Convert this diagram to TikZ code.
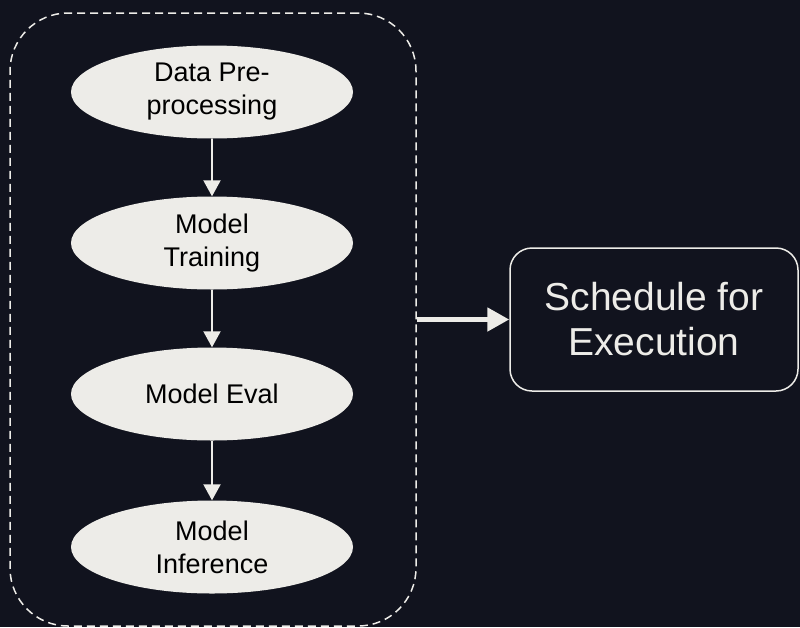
\documentclass[tikz,border=0pt]{standalone}
\usepackage{fontspec}
\setmainfont{Liberation Sans}
\usetikzlibrary{shapes.geometric,arrows.meta}
\definecolor{bg}{HTML}{11131E}
\definecolor{paper}{HTML}{EDECE8}
\begin{document}
\begin{tikzpicture}[x=1pt,y=-1pt,>={Triangle[length=16pt,width=17pt]},
  stage/.style = {ellipse, fill=paper, text=black, inner sep=0pt, minimum width=282pt, minimum height=93pt, align=center, font=\fontsize{27}{33}\selectfont},
  flow/.style = {draw=paper, line width=2pt, ->},]
\fill[bg] (0,0) rectangle (800,627);
\node (pipe) at (213,319.5)[draw=paper, line width=1.5pt, dash pattern=on 8pt off 5pt, rounded corners=58pt, minimum width=406pt, minimum height=613pt] {};
\node (prep) at (212,92)[stage] {Data Pre-\\processing};
\node (train) at (212,243)[stage] {Model\\Training};
\node (eval) at (212,394)[stage] {Model Eval};
\node (infer) at (212,547)[stage] {Model\\Inference};
\node (sched) at (654,319.5)[draw=paper, line width=1.5pt, rounded corners=22pt, minimum width=288pt, minimum height=143pt, align=center, text=paper, font=\fontsize{39}{45}\selectfont] {Schedule for\\Execution};
\draw[flow] (prep)--(train);
\draw[flow] (train)--(eval);
\draw[flow] (eval)--(infer);
\draw[draw=paper, line width=5pt, -{Triangle[length=22pt,width=23pt]}] (pipe.east)--(sched.west);
\end{tikzpicture}
\end{document}
